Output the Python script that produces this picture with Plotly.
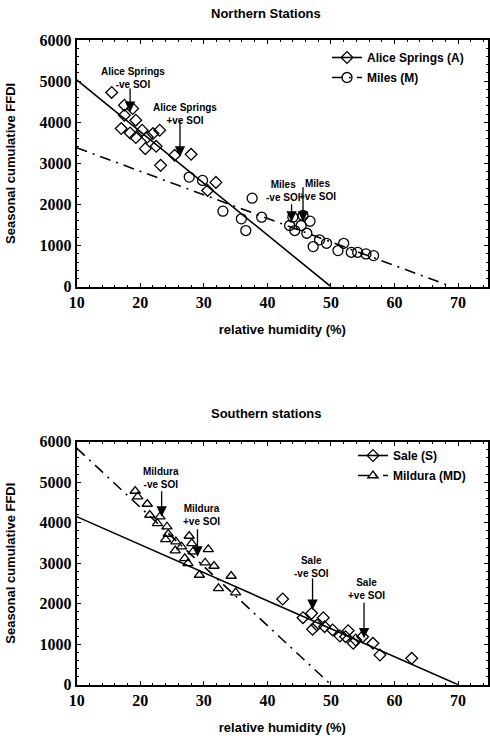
import plotly.graph_objects as go

# ---------------- data ----------------
alice_rh = [15.5, 17.5, 18.8, 17.5, 19.3, 17.0, 18.4, 19.3, 20.3, 21.1, 20.8, 22.0, 23.05, 22.5, 25.4, 28.0, 23.2, 30.6, 31.9]
alice_ffdi = [4724, 4415, 4334, 4170, 4049, 3846, 3739, 3627, 3805, 3641, 3358, 3724, 3805, 3415, 3195, 3220, 2951, 2341, 2537]
miles_rh = [27.7, 29.8, 33.0, 35.9, 36.6, 37.6, 39.1, 43.5, 44.0, 44.3, 45.3, 45.6, 46.2, 46.7, 47.2, 48.2, 49.3, 51.1, 52.0, 53.2, 54.2, 55.5, 56.7]
miles_ffdi = [2666, 2585, 1837, 1651, 1366, 2154, 1690, 1488, 1690, 1366, 1488, 1732, 1300, 1593, 976, 1139, 1056, 878, 1056, 837, 837, 797, 756]
alice_fit_rh = [10, 50]
alice_fit_ffdi = [5030, 0]
miles_fit_rh = [10, 69]
miles_fit_ffdi = [3380, 0]

mildura_rh = [19.2, 19.6, 21.1, 21.5, 22.7, 23.1, 24.2, 24.4, 24.0, 25.6, 25.5, 26.5, 27.7, 28.1, 27.0, 27.5, 28.3, 29.3, 30.7, 30.2, 31.6, 32.3, 34.3, 35.0]
mildura_ffdi = [4783, 4642, 4462, 4190, 3985, 4148, 3901, 3721, 3590, 3531, 3309, 3407, 3672, 3491, 3121, 2998, 3284, 2709, 3343, 3012, 2931, 2380, 2684, 2272]
sale_rh = [42.4, 45.6, 46.95, 47.1, 47.8, 48.8, 49.0, 50.25, 51.4, 52.7, 52.3, 53.5, 53.9, 54.97, 56.6, 57.7, 62.7]
sale_ffdi = [2116, 1654, 1763, 1368, 1474, 1654, 1432, 1351, 1202, 1333, 1185, 1022, 1104, 1185, 1022, 733, 652]
sale_fit_rh = [10, 70]
sale_fit_ffdi = [4150, 0]
mildura_fit_rh = [10, 50]
mildura_fit_ffdi = [5840, 0]

# SOI arrows: (label, tip rh, tip ffdi, label rh, label ffdi, arrow length px)
north_soi = [
    ("Alice Springs<br>-ve SOI", 18.4, 4250, 18.85, 5078, -25),
    ("Alice Springs<br>+ve SOI", 26.25, 3163, 27.0, 4209, -38),
    ("Miles<br>-ve SOI", 43.8, 1582, 42.6, 2316, -19),
    ("Miles<br>+ve SOI", 45.6, 1582, 47.9, 2353, -36),
]
south_soi = [
    ("Mildura<br>-ve SOI", 23.36, 4148, 23.2, 5109, -27),
    ("Mildura<br>+ve SOI", 29.0, 3160, 29.7, 4178, -29),
    ("Sale<br>-ve SOI", 47.1, 1844, 47.0, 2894, -33),
    ("Sale<br>+ve SOI", 55.2, 1146, 55.6, 2358, -37),
]

x_ticks = [10, 20, 30, 40, 50, 60, 70]
y_ticks = [0, 1000, 2000, 3000, 4000, 5000, 6000]

# ---------------- figure ----------------
fig = go.Figure()
SANS = "Liberation Sans"
SERIF = "Liberation Serif"
DASHDOT = "11px,6px,2px,6px"

def add_series(rh, ffdi, fit_rh, fit_ffdi, name, symbol, size, dash, xa, ya, legend):
    fig.add_trace(go.Scatter(x=rh, y=ffdi, mode="markers", xaxis=xa, yaxis=ya,
                             marker=dict(symbol=symbol, size=size, color="black",
                                         line=dict(width=1.3, color="black")),
                             showlegend=False, hoverinfo="skip"))
    fig.add_trace(go.Scatter(x=fit_rh, y=fit_ffdi, mode="lines", xaxis=xa, yaxis=ya,
                             line=dict(color="black", width=1.6, dash=dash),
                             showlegend=False, hoverinfo="skip"))
    fig.add_trace(go.Scatter(x=[None], y=[None], mode="lines+markers", name=name,
                             xaxis=xa, yaxis=ya, legend=legend, legendgroup=name,
                             marker=dict(symbol=symbol, size=size, color="black",
                                         line=dict(width=1.3, color="black")),
                             line=dict(color="black", width=1.6, dash=dash)))

add_series(alice_rh, alice_ffdi, alice_fit_rh, alice_fit_ffdi, "Alice Springs (A)",
           "diamond-open", 9, "solid", "x", "y", "legend")
add_series(miles_rh, miles_ffdi, miles_fit_rh, miles_fit_ffdi, "Miles (M)",
           "circle-open", 10, DASHDOT, "x", "y", "legend")
add_series(sale_rh, sale_ffdi, sale_fit_rh, sale_fit_ffdi, "Sale (S)",
           "diamond-open", 9, "solid", "x2", "y2", "legend2")
add_series(mildura_rh, mildura_ffdi, mildura_fit_rh, mildura_fit_ffdi, "Mildura (MD)",
           "triangle-up-open", 9, DASHDOT, "x2", "y2", "legend2")

annotations = []
for soi, xr, yr in ((north_soi, "x", "y"), (south_soi, "x2", "y2")):
    for label, tx, ty, lx, ly, alen in soi:
        annotations.append(dict(x=lx, y=ly, xref=xr, yref=yr, text=label, showarrow=False,
                                font=dict(family=SANS, size=10, color="black", weight="bold"),
                                align="center"))
        annotations.append(dict(x=tx, y=ty, xref=xr, yref=yr, text="", showarrow=True,
                                ax=0, ay=alen, arrowhead=2, arrowsize=1.6, arrowwidth=1.3,
                                arrowcolor="black"))

annotations.append(dict(x=0.543, y=1 - 13 / 741, xref="paper", yref="paper",
                        xanchor="center", yanchor="middle",
                        text="Northern Stations", showarrow=False,
                        font=dict(family=SANS, size=13, color="black", weight="bold")))
annotations.append(dict(x=0.543, y=1 - 413 / 741, xref="paper", yref="paper",
                        xanchor="center", yanchor="middle",
                        text="Southern stations", showarrow=False,
                        font=dict(family=SANS, size=13, color="black", weight="bold")))

tickfont = dict(family=SERIF, size=16, color="black", weight="bold")
titlefont = dict(family=SANS, size=13, color="black", weight="bold")

def xaxis(anchor):
    return dict(domain=[76.7 / 490, 488 / 490], range=[10, 74.7], anchor=anchor,
                automargin=False,
                tickvals=x_ticks, tickfont=tickfont, ticks="inside", ticklen=4,
                tickwidth=1.3, tickcolor="black",
                minor=dict(dtick=2, ticks="inside", ticklen=2, tickcolor="black"),
                showline=True, linecolor="black", linewidth=2, mirror="ticks",
                showgrid=False, zeroline=False,
                title=dict(text="relative humidity (%)", font=titlefont, standoff=15))

def yaxis(anchor, dom):
    return dict(domain=dom, range=[0, 6000], anchor=anchor,
                automargin=False,
                tickvals=y_ticks, tickfont=tickfont, ticks="inside", ticklen=4,
                tickwidth=1.3, tickcolor="black",
                minor=dict(dtick=200, ticks="inside", ticklen=2, tickcolor="black"),
                showline=True, linecolor="black", linewidth=2, mirror="ticks",
                showgrid=False, zeroline=False,
                title=dict(text="Seasonal cumulative FFDI", font=titlefont, standoff=21))

legfont = dict(family=SANS, size=12, color="black", weight="bold")
fig.update_layout(
    width=490, height=741,
    margin=dict(l=0, r=0, t=0, b=0, autoexpand=False),
    paper_bgcolor="white", plot_bgcolor="white",
    xaxis=xaxis("y"),
    yaxis=yaxis("x", [1 - 286.7 / 741, 1 - 40 / 741]),
    xaxis2=xaxis("y2"),
    yaxis2=yaxis("x2", [1 - 684.7 / 741, 1 - 441.7 / 741]),
    legend=dict(x=327 / 490, y=1 - 43 / 741, xanchor="left", yanchor="top",
                traceorder="grouped", tracegroupgap=1,
                bgcolor="rgba(0,0,0,0)", font=legfont),
    legend2=dict(x=353 / 490, y=1 - 441 / 741, xanchor="left", yanchor="top",
                 traceorder="grouped", tracegroupgap=1,
                 bgcolor="rgba(0,0,0,0)", font=legfont),
    annotations=annotations,
)

fig.write_html("out.html", config={"displayModeBar": False},
               post_script="document.body.style.margin='0';document.body.style.overflow='hidden';")
